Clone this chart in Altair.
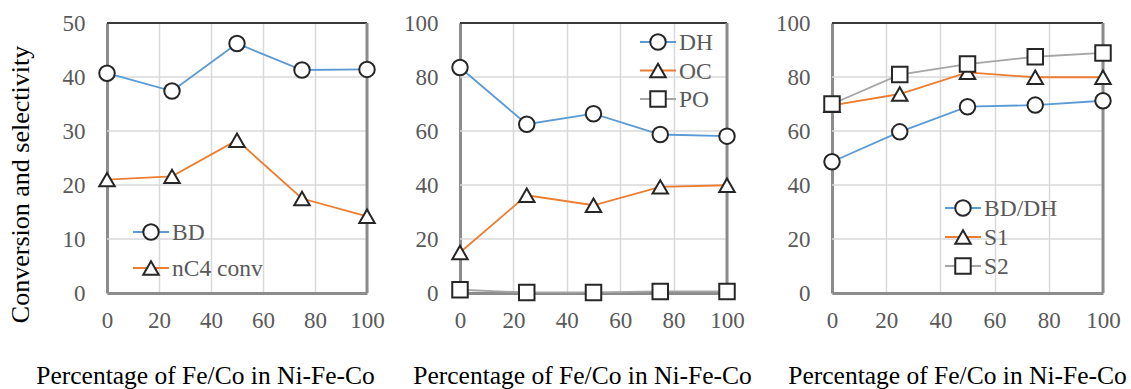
import altair as alt
import pandas as pd

# Fe/Co share in the Ni-Fe-Co catalyst (%)
pct = [0, 25, 50, 75, 100]

# Left panel: BD yield and n-C4 conversion
bd = [40.7, 37.4, 46.2, 41.3, 41.4]
nc4_conv = [21.0, 21.6, 28.3, 17.5, 14.2]

# Middle panel: product distribution
dh = [83.5, 62.5, 66.4, 58.7, 58.1]
oc = [15.0, 36.2, 32.5, 39.3, 39.9]
po = [1.2, 0.2, 0.2, 0.6, 0.6]

# Right panel: selectivities
bd_dh = [48.6, 59.7, 69.0, 69.6, 71.2]
s1 = [69.5, 73.7, 81.7, 79.9, 79.9]
s2 = [70.0, 80.9, 84.8, 87.5, 88.9]

x_ticks = [0, 20, 40, 60, 80, 100]
y_ticks_left = [0, 10, 20, 30, 40, 50]
y_ticks_other = [0, 20, 40, 60, 80, 100]

x_title = "Percentage of Fe/Co in Ni-Fe-Co"
y_title = "Conversion and selectivity"

BLUE, ORANGE, GRAY = "#5B9BD5", "#ED7D31", "#A5A5A5"
FONT = "Liberation Serif"
LABEL_GRAY = "#595959"
AXIS_GRAY = "#8C8C8C"
GRID_GRAY = "#D9D9D9"
MARKER_EDGE = "#262626"
MARKER_SIZE = 240
PLOT_H = 270
SPACING = 93
# page margins around the three plot areas
MARGIN_L, MARGIN_T, MARGIN_R, MARGIN_B = 107, 23, 27, 95


def panel(series, y_ticks, plot_w, group_w, title_x, legend, first, last):
    ymax = y_ticks[-1]
    rows = []
    for name, vals, _, _ in series:
        for p, v in zip(pct, vals):
            rows.append({"series": name, "pct": p, "value": v})
    df = pd.DataFrame(rows)

    xscale = alt.Scale(domain=[0, 100], range=[0, plot_w], nice=False, zero=False)
    yscale = alt.Scale(domain=[0, ymax], nice=False, zero=False)

    x_axis = alt.Axis(
        values=x_ticks, grid=True, gridColor=GRID_GRAY, gridWidth=1.5,
        ticks=False, domainColor=AXIS_GRAY, domainWidth=3,
        labelFont=FONT, labelFontSize=23, labelColor=LABEL_GRAY,
        labelPadding=16, labelFlush=False, labelOverlap=False,
        title=x_title, titleFont=FONT, titleFontSize=25.5,
        titleFontWeight="normal", titleColor="black",
        titleX=title_x, titleY=90, titleAlign="center",
        titleBaseline="alphabetic",
    )
    y_axis = alt.Axis(
        values=y_ticks, grid=False, ticks=False,
        domainColor=AXIS_GRAY, domainWidth=3,
        labelFont=FONT, labelFontSize=23, labelColor=LABEL_GRAY,
        labelPadding=22, labelFlush=False, labelOverlap=False,
        title=y_title if first else "",
        titleFont=FONT, titleFontSize=26, titleFontWeight="normal",
        titleColor="black", titleX=-87, titleY=161,
        titleAlign="center", titleBaseline="middle", titleAngle=270,
    )

    def X(field):
        return alt.X(f"{field}:Q", scale=xscale, axis=x_axis)

    def Y(field):
        return alt.Y(f"{field}:Q", scale=yscale, axis=y_axis)

    layers = []
    grid_df = pd.DataFrame({"g": y_ticks[1:]})
    one = pd.DataFrame({"g": [0]})

    # invisible corner marks that pin the page extent
    if first:
        layers.append(
            alt.Chart(one).mark_rule(strokeOpacity=0, strokeWidth=0).encode(
                x=alt.value(-MARGIN_L), x2=alt.value(-MARGIN_L + 1),
                y=alt.value(-MARGIN_T),
            )
        )
    if last:
        layers.append(
            alt.Chart(one).mark_rule(strokeOpacity=0, strokeWidth=0).encode(
                x=alt.value(plot_w + MARGIN_R - 1), x2=alt.value(plot_w + MARGIN_R),
                y=alt.value(PLOT_H + MARGIN_B),
            )
        )

    # horizontal gridlines
    layers.append(
        alt.Chart(grid_df).mark_rule(color=GRID_GRAY, strokeWidth=1.5).encode(
            y=Y("g"), x=alt.value(0), x2=alt.value(plot_w)
        )
    )
    # frame: black top edge, gray right edge
    layers.append(
        alt.Chart(one).mark_rule(color="black", strokeWidth=1.5).encode(
            x=alt.value(0), x2=alt.value(plot_w), y=alt.value(0)
        )
    )
    layers.append(
        alt.Chart(one).mark_rule(color=AXIS_GRAY, strokeWidth=3).encode(
            x=alt.value(plot_w), y=alt.value(0), y2=alt.value(PLOT_H)
        )
    )

    for name, _, color, shape in series:
        base = alt.Chart(df).transform_filter(alt.datum.series == name)
        layers.append(
            base.mark_line(color=color, strokeWidth=1.8).encode(x=X("pct"), y=Y("value"))
        )
        layers.append(
            base.mark_point(
                shape=shape, filled=True, fill="white", stroke=MARKER_EDGE,
                strokeWidth=2, size=MARKER_SIZE, opacity=1,
            ).encode(x=X("pct"), y=Y("value"))
        )

    # legend entries: line segment, marker, label
    lx, ly, gap = legend
    for i, (name, _, color, shape) in enumerate(series):
        yy = ly + i * gap
        layers.append(
            alt.Chart(one).mark_rule(color=color, strokeWidth=1.8).encode(
                x=alt.value(lx), x2=alt.value(lx + 36), y=alt.value(yy)
            )
        )
        layers.append(
            alt.Chart(one).mark_point(
                shape=shape, filled=True, fill="white", stroke=MARKER_EDGE,
                strokeWidth=2, size=MARKER_SIZE, opacity=1,
            ).encode(x=alt.value(lx + 18), y=alt.value(yy))
        )
        layers.append(
            alt.Chart(one).mark_text(
                text=name, font=FONT, fontSize=23.5, color=LABEL_GRAY,
                align="left", baseline="middle",
            ).encode(x=alt.value(lx + 39), y=alt.value(yy + 1))
        )

    return alt.layer(*layers).properties(width=group_w, height=PLOT_H)


left = panel(
    [("BD", bd, BLUE, "circle"), ("nC4 conv", nc4_conv, ORANGE, "triangle-up")],
    y_ticks_left, 260, 260, 98, (26, 209, 36), True, False,
)
middle = panel(
    [("DH", dh, BLUE, "circle"), ("OC", oc, ORANGE, "triangle-up"),
     ("PO", po, GRAY, "square")],
    y_ticks_other, 267, 279, 122, (180, 19, 28.5), False, False,
)
right = panel(
    [("BD/DH", bd_dh, BLUE, "circle"), ("S1", s1, ORANGE, "triangle-up"),
     ("S2", s2, GRAY, "square")],
    y_ticks_other, 271, 271, 125, (113, 185, 29), False, True,
)

chart = (
    alt.hconcat(left, middle, right, spacing=SPACING, bounds="flush")
    .properties(padding=0, background="white")
    .configure_view(stroke=None)
)

chart.save("out.html", embed_options={"renderer": "svg", "actions": False})
